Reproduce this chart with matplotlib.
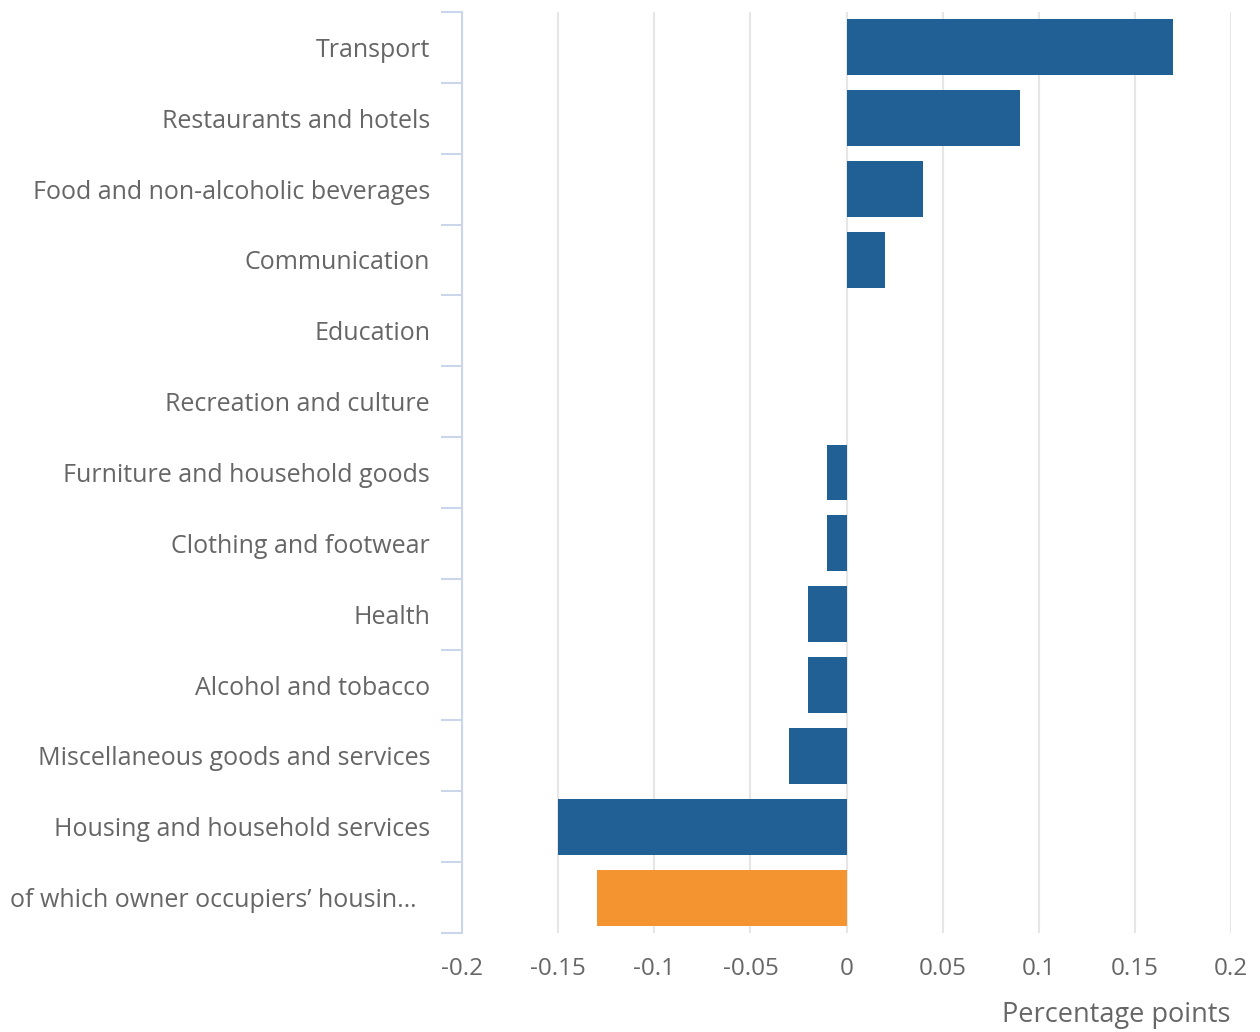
import matplotlib
matplotlib.use("Agg")
import matplotlib.pyplot as plt
from matplotlib.transforms import ScaledTranslation
from matplotlib.ticker import FixedLocator

categories = [
    "Transport",
    "Restaurants and hotels",
    "Food and non-alcoholic beverages",
    "Communication",
    "Education",
    "Recreation and culture",
    "Furniture and household goods",
    "Clothing and footwear",
    "Health",
    "Alcohol and tobacco",
    "Miscellaneous goods and services",
    "Housing and household services",
    "of which owner occupiers\u2019 housin\u2026",
]
values = [0.17, 0.09, 0.04, 0.02, 0.0, 0.0, -0.01, -0.01, -0.02, -0.02, -0.03, -0.15, -0.13]
highlight = [False] * 12 + [True]
xticks = [-0.2, -0.15, -0.1, -0.05, 0, 0.05, 0.1, 0.15, 0.2]
xtick_labels = ["-0.2", "-0.15", "-0.1", "-0.05", "0", "0.05", "0.1", "0.15", "0.2"]

BLUE = "#206095"
ORANGE = "#F39431"
TEXT = "#666666"
AXIS = "#ccd6eb"
GRID = "#e6e6e6"

plt.rcParams["font.family"] = ["Open Sans", "DejaVu Sans"]

fig = plt.figure(figsize=(12.6, 10.32), dpi=100)
W, H = 1260, 1032
left, right, top, bottom = 462, 1231, 12, 933
ax = fig.add_axes([left / W, 1 - bottom / H, (right - left) / W, (bottom - top) / H])

n = len(categories)
ypos = list(range(n))
colors = [ORANGE if h else BLUE for h in highlight]
ax.barh(ypos, values, height=0.79, color=colors, zorder=3)

ax.set_xlim(-0.2, 0.2)
ax.set_ylim(n - 0.5, -0.5)

ax.set_xticks(xticks)
ax.set_xticklabels(xtick_labels)
ax.grid(axis="x", color=GRID, linewidth=1.5, zorder=0)
ax.set_axisbelow(True)

ax.set_yticks(ypos)
ax.set_yticklabels(categories)
ax.yaxis.set_minor_locator(FixedLocator([i - 0.5 for i in range(n + 1)]))
ax.tick_params(axis="y", which="major", length=0, pad=23, labelsize=18, labelcolor=TEXT)
ax.tick_params(axis="y", which="minor", length=15, width=1.5, color=AXIS)
ax.tick_params(axis="x", which="both", length=0, pad=17, labelsize=17.5, labelcolor=TEXT)

for s in ["top", "right", "bottom"]:
    ax.spines[s].set_visible(False)
ax.spines["left"].set_color(AXIS)
ax.spines["left"].set_linewidth(1.5)

# truncated last label sits slightly further left
lbl = ax.get_yticklabels()[-1]
lbl.set_transform(lbl.get_transform() + ScaledTranslation(-13 / 100, 0, fig.dpi_scale_trans))

fig.text(right / W, 1 - 1015 / H, "Percentage points", ha="right", va="center",
         fontsize=19.5, color=TEXT)

fig.savefig("out.png", dpi=100)
